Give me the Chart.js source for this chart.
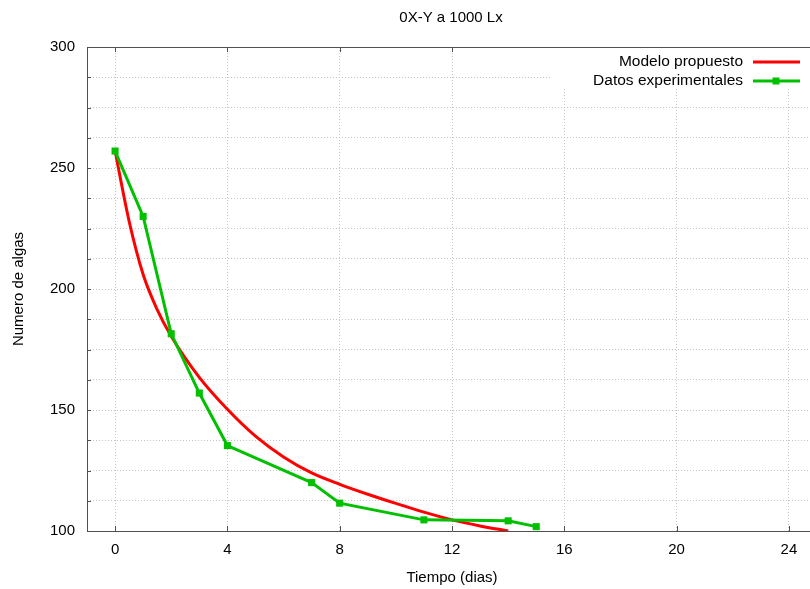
<!DOCTYPE html>
<html>
<head>
<meta charset="utf-8">
<script src="https://cdn.jsdelivr.net/npm/chart.js@4"></script>
<style>
  html, body { margin: 0; padding: 0; background: #fff; overflow: hidden; }
  #wrap { width: 906px; height: 589px; }
</style>
</head>
<body>
<div id="wrap"><canvas id="chart" width="906" height="589"></canvas></div>
<script>
const chartTitle = "0X-Y a 1000 Lx";
const xTitle = "Tiempo (dias)";
const yTitle = "Numero de algas";

// datos experimentales
const days = [0, 1, 2, 3, 4, 7, 8, 11, 14, 15];
const algas = [257, 230, 181.5, 157, 135.3, 120, 111.5, 104.6, 104.2, 101.8];

// modelo propuesto
const modelDays = [0, 0.5, 1, 1.5, 2, 3, 4, 5, 6, 7, 8, 9, 10, 11, 12, 13, 14];
const modelAlgas = [257, 228, 206, 191.5, 180.5, 163.5, 150.3, 139.2, 130.6, 124, 119.3, 115.2, 111.4, 107.8, 104.6, 102.1, 100];

const xTicks = [0, 4, 8, 12, 16, 20, 24];
const yTicks = [100, 112.5, 125, 137.5, 150, 162.5, 175, 187.5, 200, 212.5, 225, 237.5, 250, 262.5, 275, 287.5, 300];

const FONT = "'Liberation Sans', Arial, sans-serif";
const RED = "#ff0000";
const GREEN = "#00c000";
const AXIS = "#505050";

const toPoints = (xs, ys) => xs.map((x, i) => ({ x: x, y: ys[i] }));

// marco, marcas, titulo y leyenda al estilo gnuplot
const gnuplotFrame = {
  id: "gnuplotFrame",
  beforeDatasetsDraw(chart) {
    const { ctx, chartArea: a, scales } = chart;
    ctx.save();
    ctx.strokeStyle = AXIS;
    ctx.lineWidth = 1;
    ctx.beginPath();
    ctx.moveTo(a.left + 0.5, a.top + 0.5);
    ctx.lineTo(a.left + 0.5, a.bottom + 0.5);
    ctx.lineTo(a.right, a.bottom + 0.5);
    ctx.moveTo(a.left, a.top + 0.5);
    ctx.lineTo(a.right, a.top + 0.5);
    yTicks.forEach(v => {
      const y = Math.round(scales.y.getPixelForValue(v)) + 0.5;
      ctx.moveTo(a.left, y);
      ctx.lineTo(a.left + 4, y);
    });
    xTicks.forEach(v => {
      const x = Math.round(scales.x.getPixelForValue(v)) + 0.5;
      ctx.moveTo(x, a.bottom);
      ctx.lineTo(x, a.bottom - 5);
      ctx.moveTo(x, a.top);
      ctx.lineTo(x, a.top + 5);
    });
    ctx.stroke();

    ctx.font = "15px " + FONT;
    ctx.fillStyle = "#000";
    ctx.textAlign = "center";
    ctx.textBaseline = "middle";
    ctx.fillText(chartTitle, 451, 18);
    ctx.restore();
  },
  afterDatasetsDraw(chart) {
    const { ctx, chartArea: a } = chart;
    ctx.save();
    ctx.fillStyle = "#fff";
    ctx.fillRect(551, a.top + 1, a.right - 551, 89 - a.top - 1);
    ctx.font = "15.5px " + FONT;
    ctx.fillStyle = "#000";
    ctx.textAlign = "right";
    ctx.textBaseline = "middle";
    const rows = [
      { y: 62, ds: chart.data.datasets[1] },
      { y: 81, ds: chart.data.datasets[0] }
    ];
    rows.forEach(r => {
      ctx.fillText(r.ds.label, 743, r.y);
      ctx.strokeStyle = r.ds.borderColor;
      ctx.lineWidth = 3;
      ctx.beginPath();
      ctx.moveTo(753, r.y);
      ctx.lineTo(800, r.y);
      ctx.stroke();
      if (r.ds.pointRadius > 0) {
        ctx.fillStyle = r.ds.borderColor;
        ctx.fillRect(776 - 3.5, r.y - 3.5, 7, 7);
        ctx.fillStyle = "#000";
      }
    });
    ctx.restore();
  }
};

new Chart(document.getElementById("chart"), {
  type: "line",
  data: {
    datasets: [
      {
        label: "Datos experimentales",
        data: toPoints(days, algas),
        borderColor: GREEN,
        backgroundColor: GREEN,
        borderWidth: 3,
        pointStyle: "rect",
        pointRadius: 5,
        pointHoverRadius: 5,
        pointBorderWidth: 0,
        tension: 0,
        order: 0
      },
      {
        label: "Modelo propuesto",
        data: toPoints(modelDays, modelAlgas),
        borderColor: RED,
        backgroundColor: RED,
        borderWidth: 3,
        pointRadius: 0,
        cubicInterpolationMode: "monotone",
        order: 1
      }
    ]
  },
  options: {
    responsive: false,
    animation: false,
    events: [],
    layout: { padding: { left: 0, right: 89, top: 47, bottom: 0 } },
    plugins: {
      legend: { display: false },
      tooltip: { enabled: false },
      title: { display: false }
    },
    scales: {
      x: {
        type: "linear",
        min: -1,
        max: 25,
        afterBuildTicks: s => { s.ticks = xTicks.map(v => ({ value: v })); },
        afterFit: s => { s.height = 58; },
        grid: { color: "#c4c4c4", lineWidth: 1, drawTicks: false },
        border: { display: false, dash: [1, 2] },
        ticks: { color: "#000", padding: 10, font: { family: FONT, size: 15 }, maxRotation: 0 },
        title: {
          display: true, text: xTitle, color: "#000",
          font: { family: FONT, size: 15 },
          padding: { top: 12, bottom: 2 }
        }
      },
      y: {
        min: 100,
        max: 300,
        afterBuildTicks: s => { s.ticks = yTicks.map(v => ({ value: v })); },
        afterFit: s => { s.width = 87; },
        grid: { color: "#c4c4c4", lineWidth: 1, drawTicks: false },
        border: { display: false, dash: [1, 2] },
        ticks: {
          color: "#000", padding: 12, font: { family: FONT, size: 15 },
          callback: v => (v % 50 === 0 ? v : "")
        },
        title: {
          display: true, text: yTitle, color: "#000",
          font: { family: FONT, size: 15 },
          padding: { top: 10, bottom: 4 }
        }
      }
    }
  },
  plugins: [gnuplotFrame]
});
</script>
</body>
</html>
